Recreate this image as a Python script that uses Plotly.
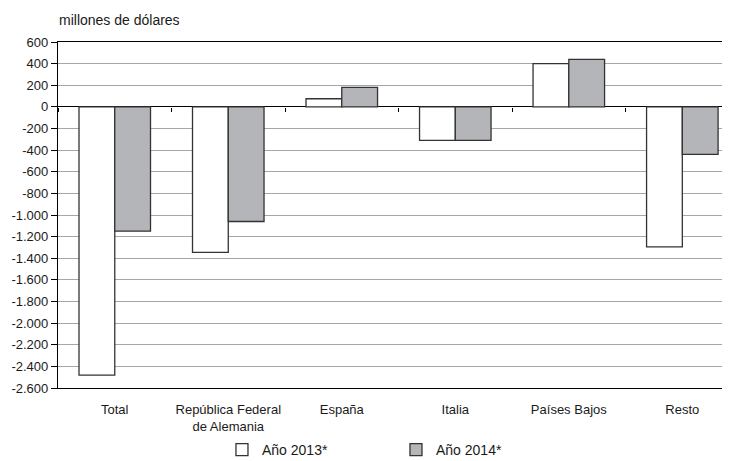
import plotly.graph_objects as go

categories = ["Total", "República Federal<br>de Alemania", "España", "Italia", "Países Bajos", "Resto"]
values_2013 = [-2480, -1345, 75, -310, 400, -1295]
values_2014 = [-1150, -1060, 180, -310, 440, -440]
series_names = ["Año 2013*", "Año 2014*"]
y_ticks = list(range(-2600, 601, 200))
y_ticktext = [("-" if v < 0 else "") + f"{abs(v):,}".replace(",", ".") for v in y_ticks]

y_min, y_max = -2600, 600

fig = go.Figure()
fig.add_trace(go.Bar(x=categories, y=values_2013, name=series_names[0],
                     marker=dict(color="#ffffff", line=dict(color="#333333", width=1.3))))
fig.add_trace(go.Bar(x=categories, y=values_2014, name=series_names[1],
                     marker=dict(color="#b4b5b8", line=dict(color="#333333", width=1.3))))
# helper trace for category-boundary ticks on the zero line
fig.add_trace(go.Scatter(x=categories, y=[0]*len(categories), xaxis="x2", mode="markers",
                         marker=dict(opacity=0), showlegend=False, hoverinfo="skip"))

fam = "Liberation Sans, Arial, sans-serif"
tick_font = dict(family=fam, size=13, color="#1a1a1a")
leg_font = dict(family=fam, size=14, color="#1a1a1a")
title_font = dict(family=fam, size=14, color="#1a1a1a")

fig.update_layout(
    width=722, height=461,
    margin=dict(l=50, r=0, t=34, b=81),
    paper_bgcolor="white", plot_bgcolor="white",
    font=tick_font,
    barmode="group", bargap=0.37, bargroupgap=0,
    showlegend=True,
    legend=dict(orientation="h", x=0.244, xanchor="left", y=-0.179, yanchor="middle",
                entrywidth=129, entrywidthmode="pixels", font=leg_font,
                itemwidth=30, tracegroupgap=0),
    xaxis=dict(range=[-0.5, 5.42], showgrid=False, showline=True, linecolor="#000000",
               linewidth=1.2, mirror=True, ticks="", tickfont=tick_font, ticklabelstandoff=9,
               zeroline=False),
    xaxis2=dict(overlaying="x", matches="x", anchor="free",
                position=(0 - y_min) / (y_max - y_min),
                showticklabels=False, ticks="outside", tickson="boundaries",
                ticklen=4, tickcolor="#000000", tickwidth=1, showgrid=False,
                showline=False, zeroline=False),
    yaxis=dict(range=[y_min, y_max], tickvals=y_ticks, ticktext=y_ticktext,
               showgrid=True, gridcolor="#a6a6a6", gridwidth=1,
               showline=True, linecolor="#000000", linewidth=1.2,
               ticks="outside", ticklen=6, tickcolor="#000000",
               zeroline=True, zerolinecolor="#000000", zerolinewidth=1.2,
               tickfont=tick_font),
    annotations=[dict(text="millones de dólares", xref="paper", yref="paper",
                      x=-0.0015, y=1.0, yshift=22, xanchor="left", yanchor="middle",
                      showarrow=False, font=title_font)],
)

fig.write_html("out.html")
